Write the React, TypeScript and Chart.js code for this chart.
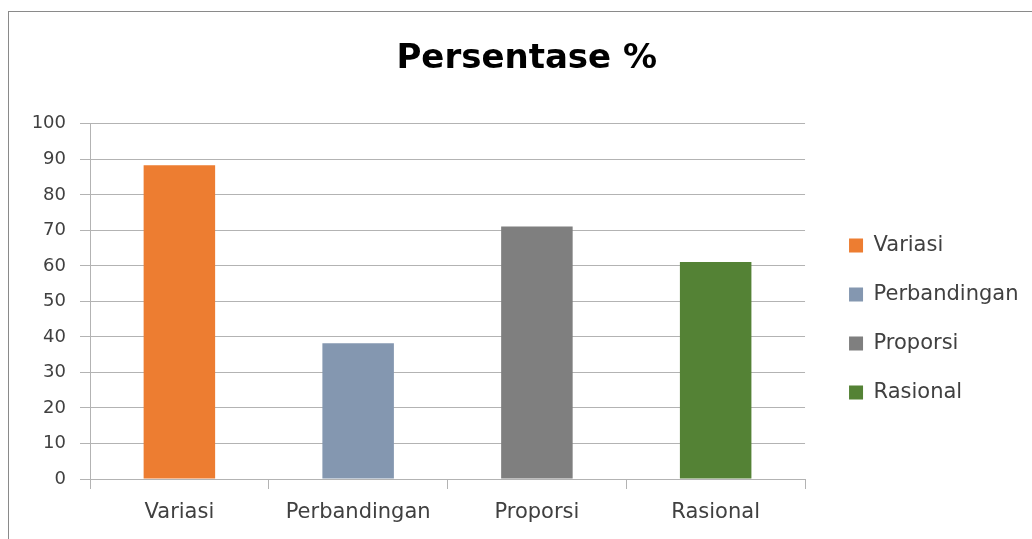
import { useEffect, useRef } from "react";
import { Chart, registerables } from "chart.js";

Chart.register(...registerables);

const titleText = "Persentase %";
const categories = ["Variasi", "Perbandingan", "Proporsi", "Rasional"];
const values = [88.3, 38.2, 71.1, 61.1];
const colors = ["#ED7D31", "#8497B0", "#7F7F7F", "#548235"];
const yMin = 0;
const yMax = 100;
const yStep = 10;

const GRID = "#b3b3b3";
const TEXT = "#404040";

const layoutShift = {
  id: "layoutShift",
  afterLayout(chart: any) {
    const l = chart.legend;
    if (l) {
      l.left += 16;
      l.right += 16;
      l.top += 43.5;
      l.bottom += 43.5;
    }
    const t = chart.titleBlock;
    if (t) {
      t.left += 16;
      t.right += 16;
    }
  },
};

export default function App() {
  const ref = useRef<HTMLCanvasElement | null>(null);

  useEffect(() => {
    if (!ref.current) return;
    const chart = new Chart(ref.current, {
      type: "bar",
      data: {
        labels: categories,
        datasets: [
          {
            label: titleText,
            data: values,
            backgroundColor: colors,
            borderWidth: 0,
            categoryPercentage: 1,
            barPercentage: 0.4,
          },
        ],
      },
      plugins: [layoutShift],
      options: {
        responsive: false,
        animation: false,
        layout: { padding: { left: 0, right: 19.5, top: 0, bottom: 0 } },
        plugins: {
          title: {
            display: true,
            text: titleText,
            color: "#000000",
            font: { family: "DejaVu Sans", size: 34, weight: "bold", lineHeight: 1.2 },
            padding: { top: 27, bottom: 44 },
          },
          legend: {
            display: true,
            position: "right",
            onClick: () => {},
            labels: {
              boxWidth: 14,
              boxHeight: 14,
              padding: 28,
              color: TEXT,
              font: { family: "DejaVu Sans", size: 21 },
              generateLabels: () =>
                categories.map((c, i) => ({
                  text: c,
                  fillStyle: colors[i],
                  strokeStyle: colors[i],
                  lineWidth: 0,
                  hidden: false,
                  index: i,
                  fontColor: TEXT,
                })),
            },
          },
          tooltip: { enabled: false },
        },
        scales: {
          x: {
            offset: true,
            grid: {
              offset: true,
              drawOnChartArea: false,
              drawTicks: true,
              tickLength: 10,
              color: GRID,
            },
            border: { display: true, color: GRID, width: 1 },
            ticks: {
              color: TEXT,
              padding: 11,
              font: { family: "DejaVu Sans", size: 21 },
              maxRotation: 0,
            },
            afterFit: (s: any) => {
              s.height = 60;
            },
          },
          y: {
            min: yMin,
            max: yMax,
            ticks: {
              stepSize: yStep,
              color: TEXT,
              padding: 14,
              font: { family: "DejaVu Sans", size: 18 },
            },
            grid: {
              color: GRID,
              drawTicks: true,
              tickLength: 10,
            },
            border: { display: true, color: GRID, width: 1 },
            afterFit: (s: any) => {
              s.width = 81;
            },
          },
        },
      },
    });
    return () => chart.destroy();
  }, []);

  return (
    <div
      style={{
        position: "absolute",
        left: 8,
        top: 11,
        width: 1024,
        height: 528,
        boxSizing: "border-box",
        borderTop: "1px solid #8a8a8a",
        borderLeft: "1px solid #8a8a8a",
        background: "#ffffff",
      }}
    >
      <canvas ref={ref} width={1023} height={527} style={{ display: "block", width: 1023, height: 527 }} />
    </div>
  );
}
